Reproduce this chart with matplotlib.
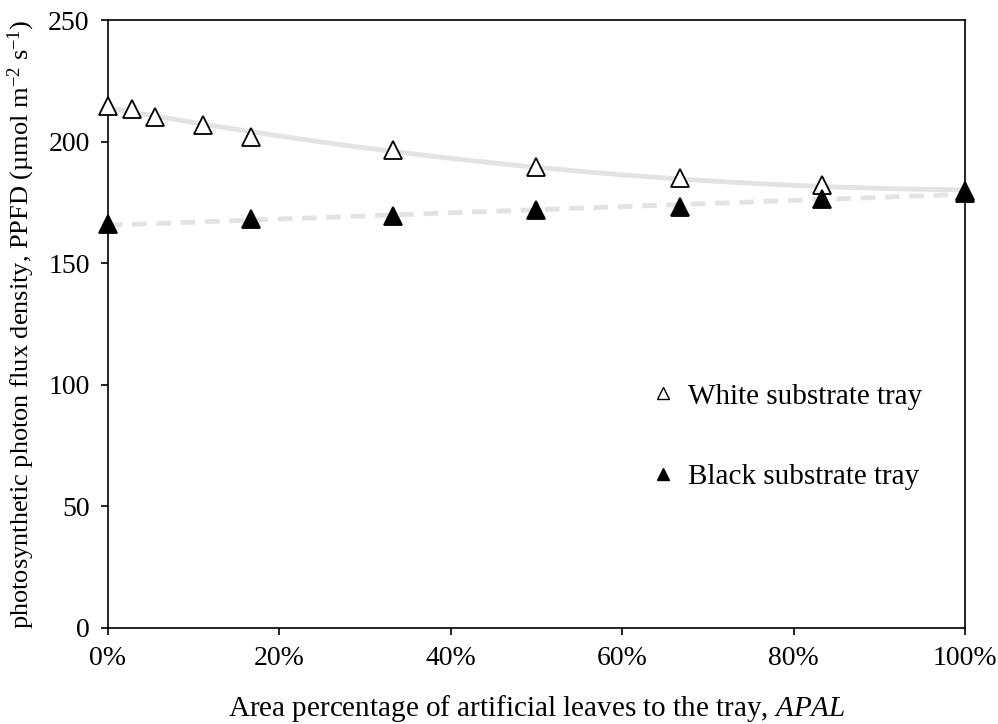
import matplotlib
matplotlib.use("Agg")
import matplotlib.pyplot as plt
import numpy as np
from matplotlib.ticker import FuncFormatter, MultipleLocator

plt.rcParams["font.family"] = ["Liberation Serif", "DejaVu Serif"]
plt.rcParams["mathtext.fontset"] = "custom"
plt.rcParams["mathtext.rm"] = "Liberation Serif"
plt.rcParams["mathtext.it"] = "Liberation Serif:italic"

# APAL values (fraction of tray area)
white_x = [0.0, 0.0278, 0.0556, 0.111, 0.167, 0.333, 0.5, 0.667, 0.833, 1.0]
white_ppfd = [214.8, 213.3, 210.0, 207.0, 202.0, 196.5, 189.5, 185.0, 182.3, 179.5]

black_x = [0.0, 0.167, 0.333, 0.5, 0.667, 0.833, 1.0]
black_ppfd = [166.0, 168.0, 169.5, 172.0, 173.0, 176.5, 179.0]

x_ticks = [0.0, 0.2, 0.4, 0.6, 0.8, 1.0]

fig = plt.figure(figsize=(9.98, 7.24), dpi=100)
ax = fig.add_axes([0.108, 0.1326, 0.859, 0.8397])

# trend lines (fitted from the points, as in the spreadsheet chart)
xs = np.linspace(0, 1, 200)
w_fit = np.polyfit(white_x, white_ppfd, 2)
b_fit = np.polyfit(black_x, black_ppfd, 1)
ax.plot(xs, np.polyval(w_fit, xs), color="#e3e3e3", lw=3.5, zorder=1)
ax.plot(xs, np.polyval(b_fit, xs), color="#e3e3e3", lw=3.5, ls=(0, (3, 2)), zorder=1)

ax.plot(white_x, white_ppfd, ls="none", marker="^", ms=13, mfc="white",
        mec="black", mew=1.3, zorder=3, clip_on=False)
ax.plot(black_x, black_ppfd, ls="none", marker="^", ms=13.5, mfc="black",
        mec="black", mew=1.3, zorder=4, clip_on=False)

# legend drawn with small markers, no frame
h1 = ax.plot([], [], ls="none", marker="^", ms=8, mfc="white", mec="black",
             mew=1.0, label="White substrate tray")[0]
h2 = ax.plot([], [], ls="none", marker="^", ms=8, mfc="black", mec="black",
             mew=1.0, label="Black substrate tray")[0]
ax.legend(handles=[h1, h2], frameon=False, fontsize=21, labelspacing=1.85,
          handletextpad=0.35, handlelength=1.0, loc="center left",
          bbox_to_anchor=(0.6, 0.315))

ax.set_xlim(0, 1)
ax.set_ylim(0, 250)
ax.set_xticks(x_ticks)
ax.xaxis.set_major_formatter(FuncFormatter(lambda v, _: f"{v * 100:.0f}%"))
ax.yaxis.set_major_locator(MultipleLocator(50))
ax.tick_params(direction="out", length=5, width=1.2, labelsize=20, pad=8)

for sp in ax.spines.values():
    sp.set_linewidth(1.2)

ax.set_xlabel(r"Area percentage of artificial leaves to the tray, $\mathit{APAL}$",
              fontsize=21, labelpad=16)
ax.set_ylabel(r"photosynthetic photon flux density, PPFD (µmol m$^{-2}$ s$^{-1}$)",
              fontsize=19, labelpad=8)

fig.savefig("out.png", dpi=100)
